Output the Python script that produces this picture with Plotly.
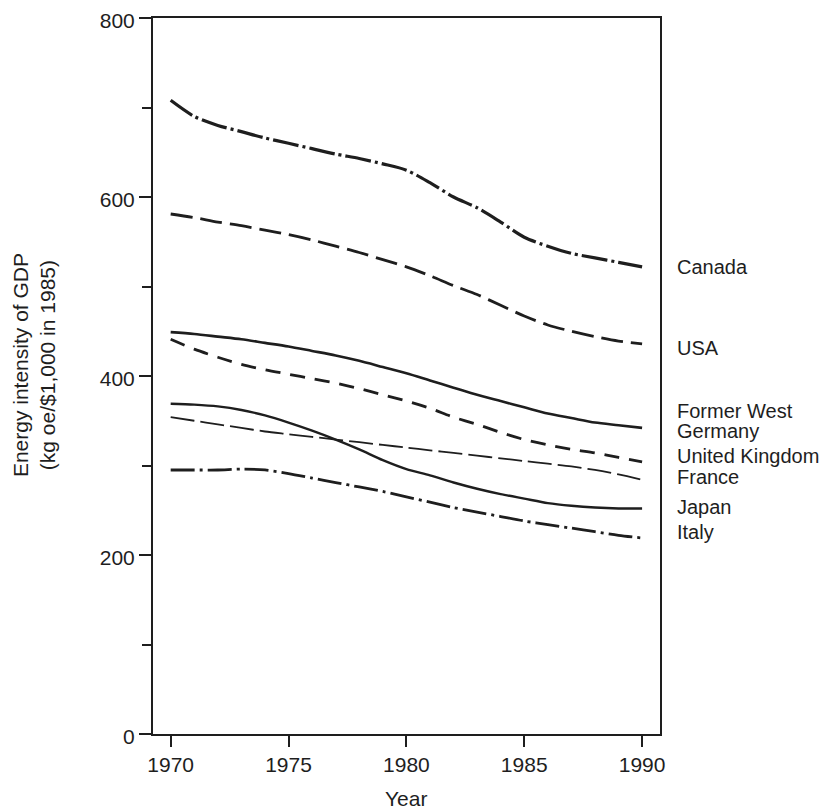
import plotly.graph_objects as go

years = list(range(1970, 1991))

canada = [708, 690, 680, 673, 666, 660, 654, 648, 643, 637, 630, 616, 600, 588, 572, 555, 545, 537, 532, 527, 522]
usa = [581, 577, 572, 568, 563, 558, 552, 545, 538, 530, 522, 512, 501, 491, 479, 467, 457, 450, 444, 439, 436]
west_germany = [449, 447, 444, 441, 437, 433, 428, 423, 417, 410, 403, 395, 387, 379, 372, 365, 358, 353, 348, 345, 342]
uk = [441, 430, 421, 413, 407, 402, 397, 392, 386, 379, 372, 364, 354, 346, 337, 329, 323, 318, 314, 309, 304]
france = [354, 350, 346, 342, 338, 335, 332, 329, 326, 323, 320, 317, 314, 311, 308, 305, 302, 299, 295, 290, 284]
japan = [369, 368, 366, 362, 356, 348, 339, 329, 318, 306, 296, 289, 281, 274, 268, 263, 258, 255, 253, 252, 252]
italy = [295, 295, 295, 296, 295, 291, 286, 281, 276, 271, 265, 259, 253, 248, 243, 238, 234, 230, 226, 222, 219]

series_names = ["Canada", "USA", "Former West Germany", "United Kingdom", "France", "Japan", "Italy"]
series_values = [canada, usa, west_germany, uk, france, japan, italy]

label_texts = ["Canada", "USA", "Former West", "Germany", "United Kingdom", "France", "Japan", "Italy"]
label_y = [522, 431, 361, 339, 311, 287, 254, 226]

styles = [
    dict(width=3.2, dash="26px,4px,3px,4px"),
    dict(width=2.8, dash="22px,8px"),
    dict(width=2.6, dash="solid"),
    dict(width=2.8, dash="15px,10px"),
    dict(width=1.8, dash="24px,6px"),
    dict(width=2.4, dash="solid"),
    dict(width=2.8, dash="24px,5px,3px,5px"),
]

FONT = "Liberation Sans, Arial, Helvetica, sans-serif"
INK = "#1e1e1e"
FS = 21

fig = go.Figure()
for name, vals, st in zip(series_names, series_values, styles):
    fig.add_trace(go.Scatter(
        x=years, y=vals, mode="lines", name=name,
        line=dict(color=INK, width=st["width"], dash=st["dash"], shape="spline", smoothing=0.8),
        showlegend=False,
    ))

for txt, ly in zip(label_texts, label_y):
    fig.add_annotation(
        x=1.03, xref="paper", y=ly, yref="y", text=txt, showarrow=False,
        xanchor="left", yanchor="middle", align="left",
        font=dict(family=FONT, size=20, color=INK),
    )

fig.add_annotation(
    x=-0.235, xref="paper", y=0.515, yref="paper",
    text="Energy intensity of GDP<br>(kg oe/$1,000 in 1985)",
    showarrow=False, textangle=-90, xanchor="center", yanchor="middle",
    font=dict(family=FONT, size=FS, color=INK),
)

fig.add_annotation(
    x=1980, xref="x", y=-0.09, yref="paper", text="Year", showarrow=False,
    xanchor="center", yanchor="middle",
    font=dict(family=FONT, size=FS, color=INK),
)

fig.update_layout(
    width=821, height=801,
    margin=dict(l=145, r=169, t=10, b=75),
    paper_bgcolor="white", plot_bgcolor="white",
    font=dict(family=FONT, size=FS, color=INK),
    xaxis=dict(
        range=[1969.25, 1990.76], tickvals=[1970, 1975, 1980, 1985, 1990],
        ticks="outside", ticklen=11, tickwidth=1.5, tickcolor=INK,
        tickfont=dict(family=FONT, size=FS, color=INK),
        showline=True, linecolor=INK, linewidth=2, mirror=True,
        showgrid=False, zeroline=False, automargin=False,
        ticklabeloverflow="allow",
    ),
    yaxis=dict(
        range=[0, 800], tickvals=[0, 200, 400, 600, 800],
        ticks="outside", ticklen=12, tickwidth=1.5, tickcolor=INK,
        tickfont=dict(family=FONT, size=FS, color=INK),
        ticklabelshift=3,
        minor=dict(tickvals=[100, 300, 500, 700], ticks="outside", ticklen=9, tickwidth=1.5, tickcolor=INK),
        showline=True, linecolor=INK, linewidth=2, mirror=True,
        showgrid=False, zeroline=False, automargin=False,
        ticklabeloverflow="allow",
    ),
)

fig.write_html("out.html")
